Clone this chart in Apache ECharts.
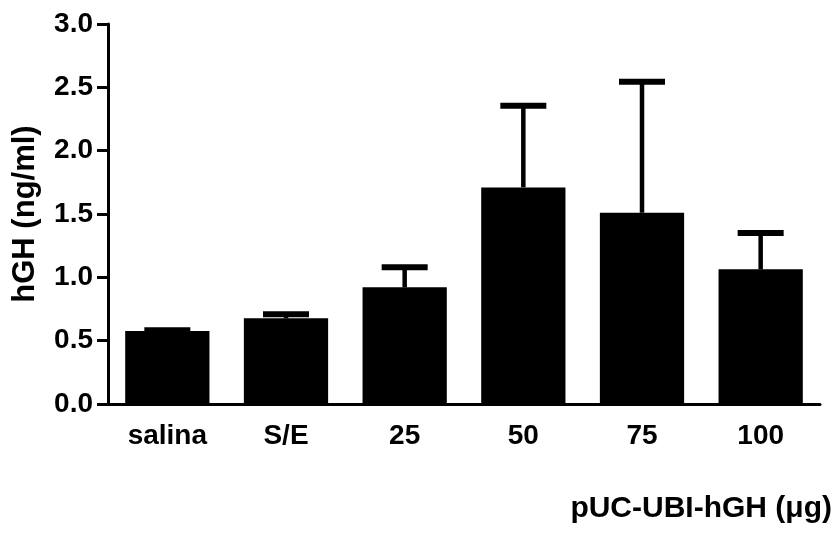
<!DOCTYPE html>
<html>
<head>
<meta charset="utf-8">
<script src="https://cdn.jsdelivr.net/npm/echarts@6/dist/echarts.min.js"></script>
<style>
html,body{margin:0;padding:0;background:#fff;}
#chart{width:834px;height:536px;}
</style>
</head>
<body>
<div id="chart"></div>
<script>
const categories = ['salina', 'S/E', '25', '50', '75', '100'];
const means = [0.576, 0.676, 0.921, 1.71, 1.51, 1.063];
const upperErr = [0.006, 0.032, 0.159, 0.645, 1.035, 0.287];
const yTicks = [0.0, 0.5, 1.0, 1.5, 2.0, 2.5, 3.0];
const yAxisTitle = 'hGH (ng/ml)';
const xAxisTitle = 'pUC-UBI-hGH (\u03bcg)';

const FONT = 'Liberation Sans, Arial, sans-serif';
const chart = echarts.init(document.getElementById('chart'), null, {renderer: 'canvas'});

const errData = categories.map((c, i) => [i, means[i], means[i] + upperErr[i]]);

chart.setOption({
  animation: false,
  backgroundColor: '#fff',
  title: {
    text: xAxisTitle,
    right: 2,
    top: 494,
    padding: 0,
    textStyle: {fontFamily: FONT, fontWeight: 'bold', fontSize: 30, color: '#000'}
  },
  grid: {left: 108, right: 14, top: 24, bottom: 132},
  xAxis: {
    type: 'category',
    data: categories,
    boundaryGap: true,
    axisLine: {lineStyle: {color: '#000', width: 3}},
    axisTick: {alignWithLabel: true, length: 12, lineStyle: {color: '#000', width: 3}},
    axisLabel: {margin: 18, color: '#000', fontFamily: FONT, fontWeight: 'bold', fontSize: 28}
  },
  yAxis: {
    type: 'value',
    min: yTicks[0],
    max: yTicks[yTicks.length - 1],
    interval: 0.5,
    name: yAxisTitle,
    nameLocation: 'middle',
    nameGap: 67,
    nameTextStyle: {fontFamily: FONT, fontWeight: 'bold', fontSize: 31, color: '#000'},
    axisLine: {show: true, lineStyle: {color: '#000', width: 3}},
    axisTick: {show: true, length: 11, lineStyle: {color: '#000', width: 3}},
    splitLine: {show: false},
    axisLabel: {
      margin: 15, color: '#000', fontFamily: FONT, fontWeight: 'bold', fontSize: 28,
      formatter: v => v.toFixed(1)
    }
  },
  series: [
    {
      type: 'bar',
      data: means,
      barWidth: '71%',
      itemStyle: {color: '#000'},
      z: 3
    },
    {
      type: 'custom',
      data: errData,
      z: 2,
      renderItem: function (params, api) {
        const x = api.value(0);
        const lo = api.coord([x, api.value(1)]);
        const hi = api.coord([x, api.value(2)]);
        const half = 23;
        return {
          type: 'group',
          children: [
            {type: 'line', shape: {x1: lo[0], y1: lo[1], x2: hi[0], y2: hi[1]}, style: {stroke: '#000', lineWidth: 4.5}},
            {type: 'line', shape: {x1: hi[0] - half, y1: hi[1], x2: hi[0] + half, y2: hi[1]}, style: {stroke: '#000', lineWidth: 6}}
          ]
        };
      }
    }
  ]
});
</script>
</body>
</html>
